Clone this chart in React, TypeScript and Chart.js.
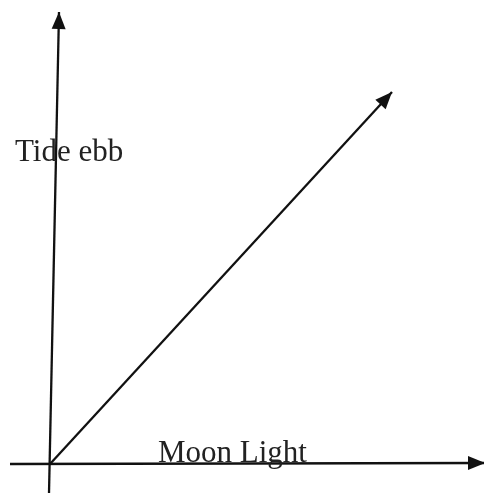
import React, { useEffect, useRef } from "react";
import { Chart, registerables } from "chart.js";

Chart.register(...registerables);

// Diagram in abstract units: origin at the axes' intersection.
const yAxisLine = [
  { x: -0.1, y: -2.9 },
  { x: 0.9, y: 45.2 },
];
const xAxisLine = [
  { x: -4.0, y: 0.0 },
  { x: 43.5, y: 0.1 },
];
const trendLine = [
  { x: 0.0, y: 0.0 },
  { x: 34.2, y: 37.2 },
];
const labels = [
  { text: "Tide ebb", x: -3.5, y: 30.3 },
  { text: "Moon Light", x: 10.8, y: 0.2 },
];
const xRange = { min: -5, max: 43.4 };
const yRange = { min: -2.9, max: 46.4 };

const INK = "#111111";

const arrowPlugin = {
  id: "arrowsAndLabels",
  afterDatasetsDraw(chart: any) {
    const ctx = chart.ctx;
    chart.data.datasets.forEach((ds: any, i: number) => {
      if (!ds.arrow) return;
      const pts = chart.getDatasetMeta(i).data;
      const a = pts[pts.length - 2];
      const b = pts[pts.length - 1];
      const ang = Math.atan2(b.y - a.y, b.x - a.x);
      const len = 17;
      const half = 7;
      ctx.save();
      ctx.fillStyle = INK;
      ctx.translate(b.x, b.y);
      ctx.rotate(ang);
      ctx.beginPath();
      ctx.moveTo(0, 0);
      ctx.lineTo(-len, -half);
      ctx.lineTo(-len, half);
      ctx.closePath();
      ctx.fill();
      ctx.restore();
    });
    const xs = chart.scales.x;
    const ys = chart.scales.y;
    ctx.save();
    ctx.fillStyle = "#222222";
    ctx.font = '31px "Liberation Serif", "Times New Roman", serif';
    ctx.textBaseline = "alphabetic";
    ctx.textAlign = "left";
    labels.forEach((l) => {
      ctx.fillText(l.text, xs.getPixelForValue(l.x), ys.getPixelForValue(l.y));
    });
    ctx.restore();
  },
};

export default function App() {
  const ref = useRef<HTMLCanvasElement | null>(null);
  useEffect(() => {
    document.body.style.margin = "0";
    const lineDs = (data: any[]) => ({
      data,
      showLine: true,
      borderColor: INK,
      borderWidth: 2.3,
      pointRadius: 0,
      fill: false,
      arrow: true,
    });
    const chart = new Chart(ref.current as HTMLCanvasElement, {
      type: "scatter",
      data: {
        datasets: [lineDs(yAxisLine), lineDs(xAxisLine), lineDs(trendLine)] as any,
      },
      options: {
        animation: false,
        responsive: false,
        devicePixelRatio: 1,
        layout: { padding: 0 },
        plugins: { legend: { display: false }, tooltip: { enabled: false } },
        scales: {
          x: { type: "linear", display: false, min: xRange.min, max: xRange.max },
          y: { type: "linear", display: false, min: yRange.min, max: yRange.max },
        },
      },
      plugins: [arrowPlugin],
    });
    return () => chart.destroy();
  }, []);
  return (
    <div style={{ width: 484, height: 493, background: "#ffffff" }}>
      <canvas ref={ref} width={484} height={493} />
    </div>
  );
}
